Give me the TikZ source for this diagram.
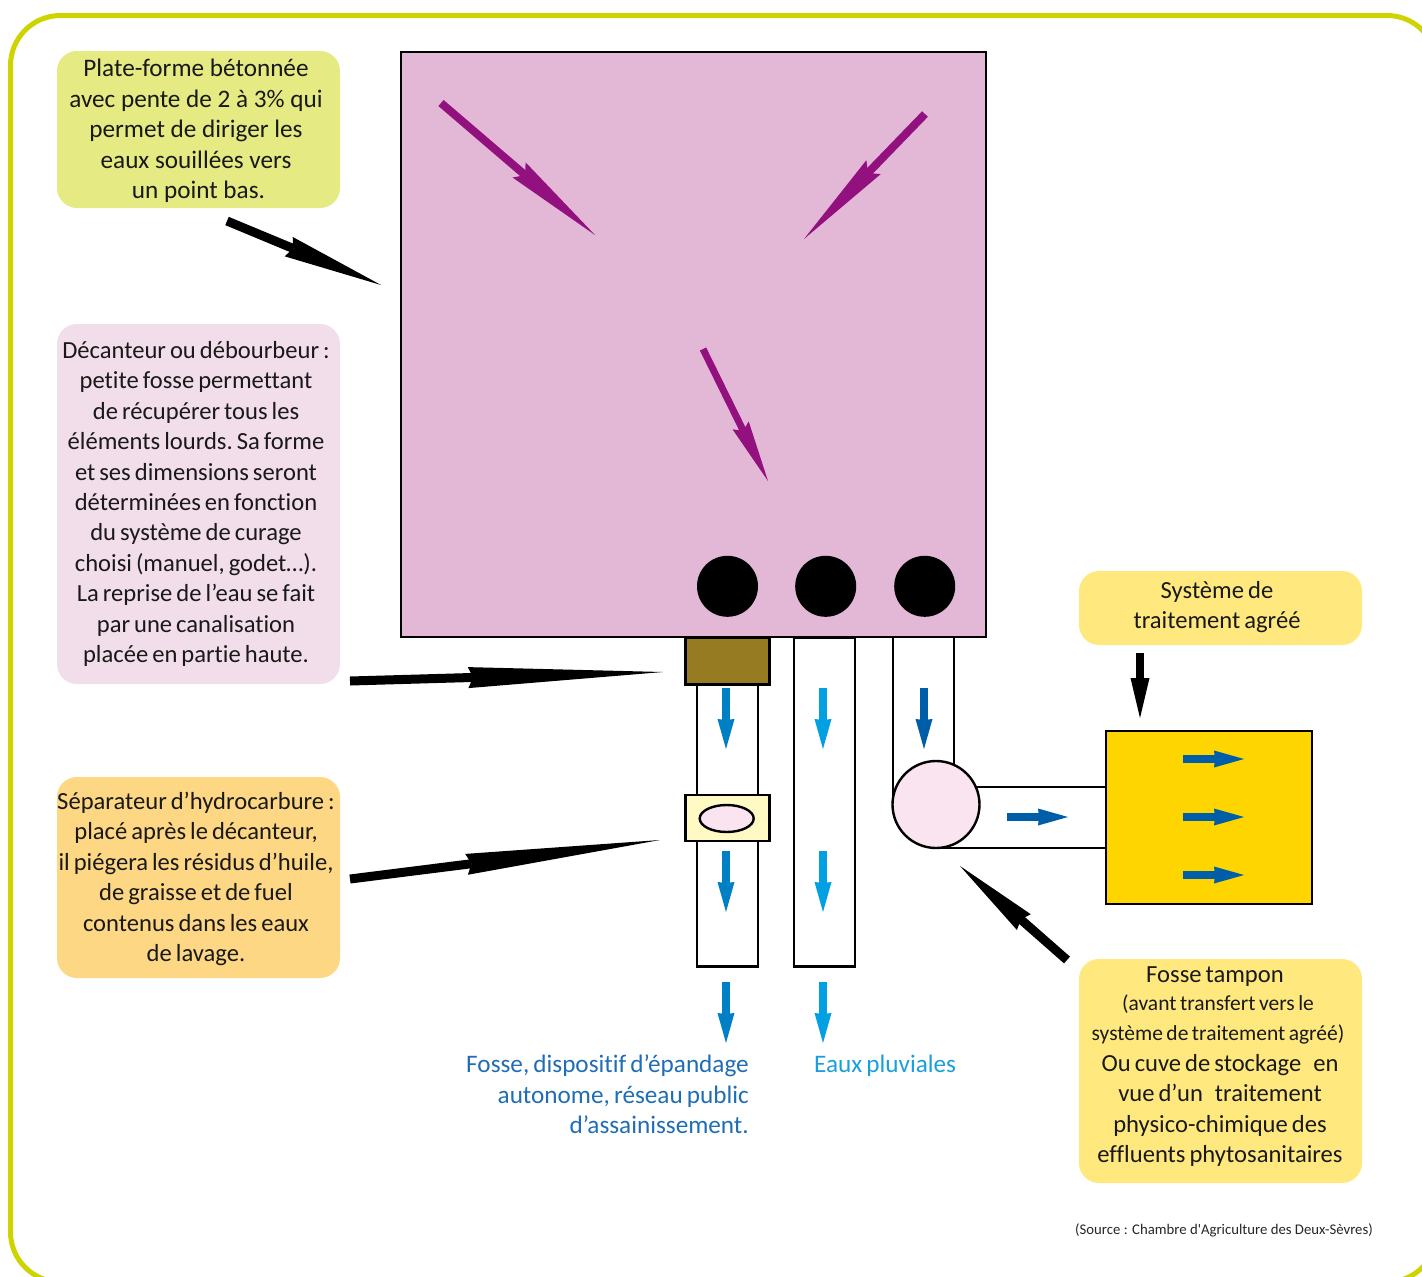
\documentclass[tikz,border=0pt]{standalone}
\usepackage{fontspec}
\setmainfont[WordSpace=0.72,Ligatures=NoCommon]{Carlito}
\newfontfamily\widefont[WordSpace=1,Ligatures=NoCommon]{Carlito}
\newfontfamily\srcfont{Carlito}
\usetikzlibrary{arrows.meta,shapes.geometric}
\definecolor{frameC}{HTML}{CDD400}
\definecolor{plat}{HTML}{E3B8D6}
\definecolor{purpleA}{HTML}{93117E}
\definecolor{bOne}{HTML}{E5EA82}
\definecolor{bTwo}{HTML}{F2DDEA}
\definecolor{bThree}{HTML}{FDD783}
\definecolor{bFour}{HTML}{FFE97F}
\definecolor{brownB}{HTML}{967B23}
\definecolor{sepC}{HTML}{FFF9C4}
\definecolor{pinkC}{HTML}{FAE4EF}
\definecolor{goldC}{HTML}{FFD500}
\definecolor{blueA}{HTML}{0080C4}
\definecolor{blueB}{HTML}{00A0E3}
\definecolor{blueC}{HTML}{005EA8}
\definecolor{txtA}{HTML}{1F6DB5}
\definecolor{txtB}{HTML}{1A9FDD}
\tikzset{
  infobox/.style={rounded corners=20pt,minimum width=283pt,inner sep=0pt,draw=none},
  body/.style={align=center,inner sep=0pt,font=\fontsize{24.6}{30.4}\selectfont\frenchspacing,text=black!90},
  part/.style={draw=black,line width=2.4pt,inner sep=0pt,outer sep=0pt,anchor=north west},
  pipe/.style={draw=black,line width=2.4pt},
  fat/.style n args={5}{draw=#1,line width=#2,-{Stealth[length=#3,width=#4,inset=#5,line width=0pt]}},
  blackbig/.style={fat={black}{9pt}{195pt}{21pt}{5pt}},
  blackmid/.style={fat={black}{9pt}{100pt}{21pt}{5pt}},
  purpleArrow/.style={fat={purpleA}{8pt}{100pt}{20pt}{8pt}},
  flow/.style={fat={#1}{8pt}{30pt}{17pt}{1pt}},
}
\begin{document}
\begin{tikzpicture}[x=1pt,y=-1pt]
\useasboundingbox (0,0) rectangle (1422,1277);
\begin{scope}
\clip (0,0) rectangle (1422,1277);
\draw[frameC,line width=5pt,rounded corners=50pt] (10.5,15.5) rectangle (1437,1282);
\end{scope}
% platform
\node[part,fill=plat,minimum width=585pt,minimum height=585pt] (plate) at (401,52) {};
% pipes
\coordinate (p3a) at (893,637); \coordinate (p3b) at (893,805);
\coordinate (p3c) at (954,637); \coordinate (p3d) at (954,775);
\coordinate (h1a) at (960,787); \coordinate (h1b) at (1106,787);
\coordinate (h2a) at (936,848); \coordinate (h2b) at (1106,848);
\draw[pipe] (p3a) -- (p3b);
\draw[pipe] (p3c) -- (p3d);
\draw[pipe] (h1a) -- (h1b);
\draw[pipe] (h2a) -- (h2b);
\node[part,fill=white,minimum width=61pt,minimum height=282pt] (pipeL) at (697,684.5) {};
\node[part,fill=white,minimum width=61pt,minimum height=329pt] (pipeM) at (794,637.5) {};
\node[part,fill=brownB,minimum width=84pt,minimum height=47pt] (dec) at (685.3,637.5) {};
\node[part,fill=sepC,minimum width=84pt,minimum height=46pt] (sep) at (685.3,795) {};
\node[draw=black,line width=2.4pt,fill=pinkC,ellipse,minimum width=54pt,minimum height=27pt,inner sep=0pt,outer sep=0pt] (sepE) at (726.7,818.5) {};
\node[draw=black,line width=2.4pt,fill=pinkC,circle,minimum size=87pt,inner sep=0pt,outer sep=0pt] (fosse) at (936,804.5) {};
\node[part,fill=goldC,minimum width=206pt,minimum height=173pt] (trait) at (1106,731) {};
\foreach \n/\x in {a/727.5,b/825.7,c/924.7}
  \node[circle,fill=black,minimum size=61pt,inner sep=0pt] (hole\n) at (\x,586.3) {};
% info boxes
\node[infobox,fill=bOne,minimum height=157pt] (b1) at (198.5,129.5) {};
\node[infobox,fill=bTwo,minimum height=360pt] (b2) at (198.5,504) {};
\node[infobox,fill=bThree,minimum height=201pt] (b3) at (198.5,877.5) {};
\node[infobox,fill=bFour,minimum height=74pt] (b4) at (1220.5,608) {};
\node[infobox,fill=bFour,minimum height=224pt] (b5) at (1220.5,1071) {};
% texts
\node[body,font=\fontsize{25.2}{30.4}\selectfont] (t1) at (196,131) {\widefont Plate-forme bétonnée\\\widefont avec pente de 2 à 3\% qui\\\widefont permet de diriger les\\\widefont eaux souillées vers\\\hspace{5pt}\widefont un point bas.};
\node[body] (t2) at (196,504) {Décanteur ou débourbeur :\\petite fosse permettant\\de récupérer tous les\\éléments lourds. Sa forme\\et ses dimensions seront\\déterminées en fonction\\du système de curage\\choisi (manuel, godet…).\\La reprise de l’eau se fait\\par une canalisation\\placée en partie haute.};
\node[body] (t3) at (196,879) {Séparateur d’hydrocarbure :\\placé après le décanteur,\\il piégera les résidus d’huile,\\de graisse et de fuel\\contenus dans les eaux\\de lavage.};
\node[body] (t4) at (1217,607) {Système de\\traitement agréé};
\node[body] (t5a) at (1215,976.5) {Fosse tampon};
\node[body,font=\fontsize{21.5}{30.4}\selectfont] (t5b) at (1218,1019.5) {(avant transfert vers le\\système de traitement agréé)};
\node[body] (t5c) at (1220,1110.5) {Ou cuve de stockage \ \ en\\vue d’un \ \ traitement\\physico-chimique des\\effluents phytosanitaires};
\node[body,font=\fontsize{25.2}{30.4}\selectfont,align=right,anchor=north east,text=txtA] (t6) at (749,1055) {Fosse, dispositif d’épandage\hspace{6pt}\\autonome, réseau public\hspace{6pt}\\d’assainissement.};
\node[body,font=\fontsize{25.2}{30.4}\selectfont,anchor=north west,text=txtB] (t7) at (814,1055) {Eaux pluviales};
\node[anchor=east,inner sep=0pt,font=\fontsize{14.75}{16}\selectfont\srcfont,text=black!85] (src) at (1373,1230) {(Source : Chambre d'Agriculture des Deux-Sèvres)};
% purple arrows
\coordinate (pa1s) at (441,103); \coordinate (pa1e) at (595,235);
\coordinate (pa2s) at (925,114); \coordinate (pa2e) at (804,239);
\coordinate (pa3s) at (703,349); \coordinate (pa3e) at (768,481);
\draw[purpleArrow] (pa1s) -- (pa1e);
\draw[purpleArrow] (pa2s) -- (pa2e);
\draw[fat={purpleA}{7pt}{62pt}{18pt}{6pt}] (pa3s) -- (pa3e);
% black arrows
\coordinate (k1s) at (227,221); \coordinate (k1e) at (381,285);
\coordinate (k2s) at (350,681); \coordinate (k2e) at (663,672);
\coordinate (k3s) at (350,879); \coordinate (k3e) at (660,840);
\coordinate (k4s) at (1140,653); \coordinate (k4e) at (1140,718);
\coordinate (k5s) at (1067,960); \coordinate (k5e) at (960,866);
\draw[blackmid] (k1s) -- (k1e);
\draw[blackbig] (k2s) -- (k2e);
\draw[blackbig] (k3s) -- (k3e);
\draw[fat={black}{8pt}{40pt}{19pt}{0pt}] (k4s) -- (k4e);
\draw[fat={black}{9pt}{85pt}{21pt}{4pt}] (k5s) -- (k5e);
% flow arrows
\foreach \n/\x/\ya/\yb/\c in {a/726/688/749/blueA,b/823/688/749/blueB,c/924/688/749/blueC,d/726/851/912/blueA,e/823/851/912/blueB,f/726/982/1043/blueA,g/823/982/1043/blueB}{
  \coordinate (f\n s) at (\x,\ya); \coordinate (f\n e) at (\x,\yb);
  \draw[flow=\c] (f\n s) -- (f\n e);
}
\foreach \n/\xa/\xb/\y in {h/1007/1068/817,i/1183/1244/759,j/1183/1244/817,k/1183/1244/875}{
  \coordinate (f\n s) at (\xa,\y); \coordinate (f\n e) at (\xb,\y);
  \draw[flow=blueC] (f\n s) -- (f\n e);
}
\end{tikzpicture}
\end{document}
